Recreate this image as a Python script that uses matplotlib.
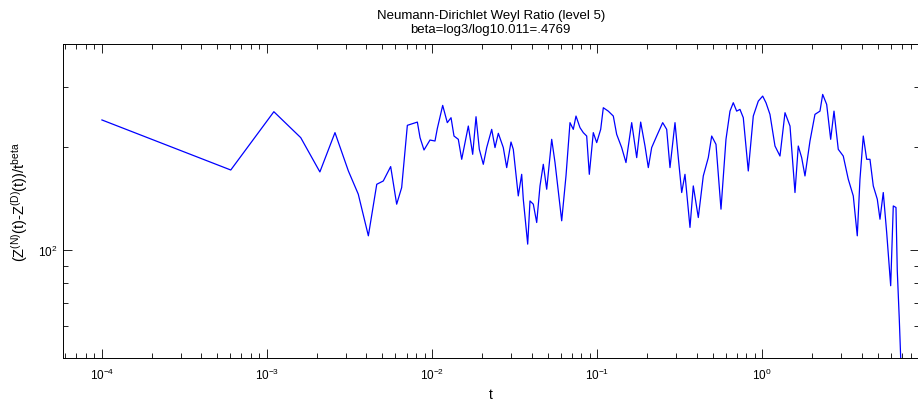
import numpy as np
import matplotlib
matplotlib.use('Agg')
import matplotlib.pyplot as plt
from matplotlib.ticker import LogLocator, FixedLocator, NullFormatter

plt.rcParams['font.family'] = ['Liberation Sans', 'DejaVu Sans']
plt.rcParams['mathtext.default'] = 'regular'

# values
t = [1.00e-4, 6.03e-4, 1.10e-3, 1.60e-3, 2.09e-3, 2.58e-3, 3.11e-3, 3.57e-3,
     4.11e-3, 4.62e-3, 5.06e-3, 5.61e-3, 6.10e-3, 6.54e-3, 7.08e-3, 8.14e-3,
     8.45e-3, 8.93e-3, 9.71e-3, 1.041e-2, 1.075e-2, 1.159e-2, 1.236e-2, 1.302e-2,
     1.357e-2, 1.441e-2, 1.511e-2, 1.657e-2, 1.761e-2, 1.845e-2, 1.932e-2, 2.042e-2,
     2.141e-2, 2.296e-2, 2.404e-2, 2.518e-2, 2.699e-2, 2.830e-2, 3.005e-2, 3.103e-2,
     3.326e-2, 3.488e-2, 3.567e-2, 3.793e-2, 3.917e-2, 4.102e-2, 4.301e-2, 4.503e-2,
     4.715e-2, 4.944e-2, 5.302e-2, 5.552e-2, 6.095e-2, 6.471e-2, 6.843e-2, 7.165e-2,
     7.440e-2, 7.867e-2, 8.237e-2, 8.637e-2, 8.958e-2, 9.471e-2, 9.931e-2, 0.1050,
     0.1089, 0.1167, 0.1252, 0.1312, 0.1407, 0.1494, 0.1618, 0.1735,
     0.1834, 0.1948, 0.2040, 0.2138, 0.2293, 0.2493, 0.2636, 0.2760,
     0.2960, 0.3099, 0.3250, 0.3402, 0.3648, 0.3820, 0.4097, 0.4392,
     0.4710, 0.4938, 0.5243, 0.5622, 0.6027, 0.6374, 0.6673, 0.6997,
     0.7325, 0.7673, 0.8226, 0.8821, 0.9458, 1.0056, 1.053, 1.113,
     1.194, 1.280, 1.373, 1.472, 1.578, 1.652, 1.732, 1.814,
     1.945, 2.085, 2.236, 2.322, 2.455, 2.596, 2.719, 2.886,
     3.094, 3.318, 3.558, 3.762, 3.906, 4.091, 4.289, 4.491,
     4.703, 4.974, 5.164, 5.406, 5.669, 5.995, 6.217, 6.455,
     6.573, 6.759, 6.892]
ratio = [240.0, 171.4, 253.7, 213.1, 169.2, 220.4, 170.3, 145.7,
         110.1, 155.7, 159.2, 175.4, 136.2, 152.3, 231.5, 236.6,
         213.1, 196.1, 209.7, 208.3, 226.4, 264.7, 235.7, 243.7,
         215.4, 210.7, 184.2, 230.4, 190.5, 245.3, 197.0, 178.1,
         199.3, 225.3, 199.3, 219.4, 199.3, 174.2, 206.9, 197.0,
         144.0, 166.5, 140.8, 104.1, 139.2, 136.2, 120.4, 154.0,
         178.1, 150.6, 210.7, 180.2, 121.8, 164.7, 235.7, 225.3,
         246.4, 227.9, 220.4, 215.4, 166.5, 220.4, 206.1, 225.3,
         260.6, 254.7, 246.4, 217.9, 199.3, 180.2, 235.7, 186.3,
         236.6, 201.4, 174.2, 199.3, 215.4, 235.7, 225.3, 174.2,
         235.7, 186.3, 147.3, 166.5, 116.5, 154.0, 124.5, 164.7,
         186.3, 215.4, 203.7, 131.7, 210.7, 254.7, 269.5, 254.7,
         257.7, 243.7, 170.3, 246.4, 272.4, 281.8, 269.5, 249.2,
         201.4, 188.3, 252.0, 230.4, 147.3, 201.4, 186.3, 164.7,
         208.3, 249.2, 254.7, 285.0, 266.5, 210.7, 254.7, 197.0,
         188.3, 161.1, 144.0, 110.1, 161.1, 215.4, 184.2, 184.2,
         154.0, 140.8, 123.1, 147.3, 112.6, 78.7, 134.6, 133.2,
         87.0, 62.9, 48.6]

fig = plt.figure(figsize=(9.18, 4.02), dpi=100)
ax = fig.add_axes([0.0681, 0.107, 0.933, 0.781])

ax.loglog(t, ratio, color='#0000ff', linewidth=0.9)
ax.set_xlim(5.77e-5, 8.9)
ax.set_ylim(48.4, 400)

ax.xaxis.set_major_locator(LogLocator(base=10, numticks=20))
ax.xaxis.set_minor_locator(LogLocator(base=10, subs=np.arange(2, 10), numticks=100))
ax.xaxis.set_minor_formatter(NullFormatter())
ax.yaxis.set_major_locator(FixedLocator([100]))
ax.yaxis.set_minor_locator(FixedLocator([60, 70, 80, 90, 200, 300]))
ax.yaxis.set_minor_formatter(NullFormatter())

ax.tick_params(which='both', direction='in', top=True, right=True, labelsize=8.5)
ax.tick_params(axis='x', which='major', pad=6)
ax.tick_params(which='major', length=6.5, width=0.6)
ax.tick_params(which='minor', length=3.6, width=0.6)
for s in ax.spines.values():
    s.set_linewidth(0.7)

ax.set_title('Neumann-Dirichlet Weyl Ratio (level 5)\nbeta=log3/log10.011=.4769',
             fontsize=9.5, pad=9, linespacing=1.2)
ax.set_xlabel('t', fontsize=10, labelpad=4)
ax.set_ylabel('(Z$^{(N)}$(t)-Z$^{(D)}$(t))/t$^{beta}$', fontsize=10.5, labelpad=6)

fig.savefig('out.png', dpi=100)
